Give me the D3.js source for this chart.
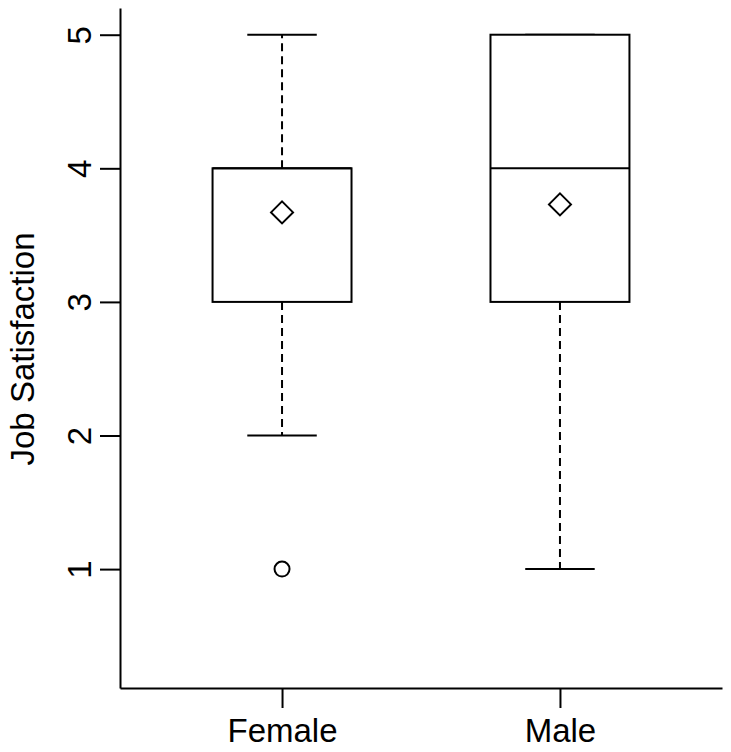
<!DOCTYPE html>
<html>
<head>
<meta charset="utf-8">
<script src="https://cdn.jsdelivr.net/npm/d3@7"></script>
<style>
  body { margin: 0; background: #fff; }
  text { font-family: "Liberation Sans", Arial, sans-serif; fill: #000; }
</style>
</head>
<body>
<script>
// Chart size
const width = 731;
const height = 752;

// Data
const groups = ["Female", "Male"];
const whiskerLow = [2, 1];
const quartile1 = [3, 3];
const medians = [4, 4];
const quartile3 = [4, 5];
const whiskerHigh = [5, 5];
const means = [3.67, 3.73];
const outlierGroup = ["Female"];
const outlierValue = [1];
const yTicks = [1, 2, 3, 4, 5];

const svg = d3.select("body")
    .append("svg")
    .attr("width", width)
    .attr("height", height);

// Scales
const xScale = d3.scalePoint()
    .domain(groups)
    .range([120, 722])
    .padding(0.583);

const yScale = d3.scaleLinear()
    .domain([0.11, 5.2])
    .range([688, 8]);

const step = xScale.step();
const boxW = step * 0.5;
const capW = boxW * 0.5;

// Axes
const leftAxis = d3.axisLeft(yScale)
    .tickValues(yTicks)
    .tickFormat(d3.format("d"))
    .tickSize(20)
    .tickSizeOuter(0);

const yAxis = svg.append("g")
    .attr("transform", "translate(120, 0)")
    .call(leftAxis);

yAxis.select(".domain").attr("stroke-width", 2);
yAxis.selectAll(".tick line").attr("stroke-width", 2);
yAxis.selectAll(".tick text")
    .attr("x", null)
    .attr("dy", null)
    .attr("font-size", 33)
    .attr("text-anchor", "middle")
    .attr("transform", "translate(-29, 0) rotate(-90)");

const bottomAxis = d3.axisBottom(xScale)
    .tickSize(20)
    .tickSizeOuter(0);

const xAxis = svg.append("g")
    .attr("transform", "translate(0, 688)")
    .call(bottomAxis);

xAxis.select(".domain").attr("stroke-width", 2);
xAxis.selectAll(".tick line").attr("stroke-width", 2);
xAxis.selectAll(".tick text")
    .attr("font-size", 33)
    .attr("dy", null)
    .attr("y", 54);

// Y-axis label
svg.append("text")
    .attr("transform", "rotate(-90)")
    .attr("x", -349)
    .attr("y", 34)
    .attr("text-anchor", "middle")
    .attr("font-size", 33)
    .text("Job Satisfaction");

// Boxes
const boxes = svg.append("g")
    .selectAll("g")
    .data(groups)
    .join("g");

boxes.each(function (g, i) {
    const grp = d3.select(this);
    const cx = xScale(g);

    // Dashed whiskers
    grp.append("line")
        .attr("x1", cx).attr("x2", cx)
        .attr("y1", yScale(quartile3[i])).attr("y2", yScale(whiskerHigh[i]))
        .attr("stroke", "#000").attr("stroke-width", 2)
        .attr("stroke-dasharray", "8,5");
    grp.append("line")
        .attr("x1", cx).attr("x2", cx)
        .attr("y1", yScale(quartile1[i])).attr("y2", yScale(whiskerLow[i]))
        .attr("stroke", "#000").attr("stroke-width", 2)
        .attr("stroke-dasharray", "8,5");

    // Whisker caps
    [whiskerLow[i], whiskerHigh[i]].forEach(v => {
        grp.append("line")
            .attr("x1", cx - capW / 2).attr("x2", cx + capW / 2)
            .attr("y1", yScale(v)).attr("y2", yScale(v))
            .attr("stroke", "#000").attr("stroke-width", 2);
    });

    // Box
    grp.append("rect")
        .attr("x", cx - boxW / 2)
        .attr("y", yScale(quartile3[i]))
        .attr("width", boxW)
        .attr("height", yScale(quartile1[i]) - yScale(quartile3[i]))
        .attr("fill", "#fff")
        .attr("stroke", "#000")
        .attr("stroke-width", 2);

    // Median
    grp.append("line")
        .attr("x1", cx - boxW / 2).attr("x2", cx + boxW / 2)
        .attr("y1", yScale(medians[i])).attr("y2", yScale(medians[i]))
        .attr("stroke", "#000").attr("stroke-width", 2);

    // Mean diamond
    const my = yScale(means[i]);
    const r = 11;
    grp.append("path")
        .attr("d", `M${cx},${my - r}L${cx + r},${my}L${cx},${my + r}L${cx - r},${my}Z`)
        .attr("fill", "none")
        .attr("stroke", "#000")
        .attr("stroke-width", 2);
});

// Outliers
svg.append("g")
    .selectAll("circle")
    .data(outlierValue)
    .join("circle")
    .attr("cx", (d, i) => xScale(outlierGroup[i]))
    .attr("cy", d => yScale(d))
    .attr("r", 7.5)
    .attr("fill", "none")
    .attr("stroke", "#000")
    .attr("stroke-width", 2);
</script>
</body>
</html>
